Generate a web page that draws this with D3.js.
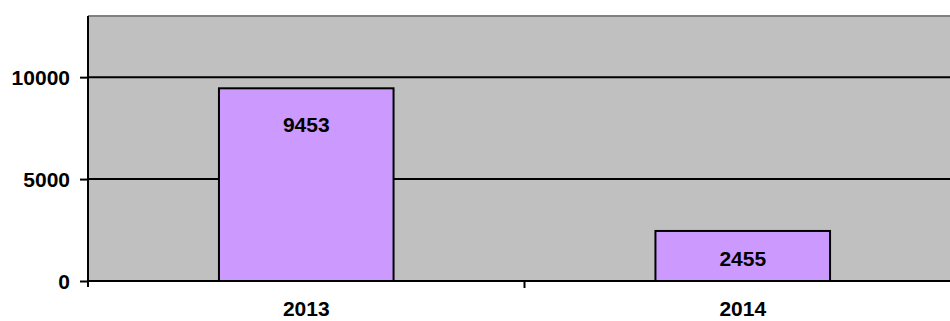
<!DOCTYPE html>
<html>
<head>
<meta charset="utf-8">
<script src="https://cdn.jsdelivr.net/npm/d3@7"></script>
<style>
  body { margin: 0; background: #fff; }
  svg text { font-family: "Liberation Sans", Arial, sans-serif; font-weight: bold; }
</style>
</head>
<body>
<svg id="chart" width="950" height="321"></svg>
<script>
const years = ["2013", "2014"]
const values = [9453, 2455]
const yTicks = [0, 5000, 10000]

const svg = d3.select("#chart")
const plotLeft = 88, plotRight = 961, plotTop = 16, plotBottom = 281

const x = d3.scaleBand()
    .domain(years)
    .range([plotLeft, plotRight])
    .paddingInner(0.6)
    .paddingOuter(0.3)
const y = d3.scaleLinear()
    .domain([0, 13000])
    .range([plotBottom, plotTop])

// plot background
svg.append("rect")
    .attr("x", plotLeft)
    .attr("y", plotTop)
    .attr("width", plotRight - plotLeft)
    .attr("height", plotBottom - plotTop)
    .attr("fill", "#c0c0c0")
svg.append("line")
    .attr("x1", plotLeft).attr("x2", plotRight)
    .attr("y1", plotTop).attr("y2", plotTop)
    .attr("stroke", "#808080")
    .attr("stroke-width", 2)

// gridlines
svg.selectAll("line.grid")
    .data(yTicks.slice(1))
    .enter().append("line")
    .attr("class", "grid")
    .attr("x1", plotLeft).attr("x2", plotRight)
    .attr("y1", d => y(d)).attr("y2", d => y(d))
    .attr("stroke", "black")
    .attr("stroke-width", 2)

// bars
svg.selectAll("rect.bar")
    .data(values)
    .enter().append("rect")
    .attr("class", "bar")
    .attr("x", (d, i) => x(years[i]))
    .attr("y", d => y(d))
    .attr("width", x.bandwidth())
    .attr("height", d => y(0) - y(d))
    .attr("fill", "#cc99ff")
    .attr("stroke", "black")
    .attr("stroke-width", 2)

svg.selectAll("text.val")
    .data(values)
    .enter().append("text")
    .attr("class", "val")
    .attr("x", (d, i) => x(years[i]) + x.bandwidth() / 2)
    .attr("y", d => Math.min(y(d) + 44, (y(d) + y(0)) / 2 + 10))
    .attr("text-anchor", "middle")
    .style("font-size", "21px")
    .text(d => d)

// y axis
const yAxis = d3.axisLeft(y)
    .tickValues(yTicks)
    .tickFormat(d3.format("d"))
    .tickSize(8)
    .tickPadding(10)
    .tickSizeOuter(0)
const gy = svg.append("g")
    .attr("transform", `translate(${plotLeft},0)`)
    .call(yAxis)
gy.select(".domain")
    .attr("stroke", "black")
    .attr("stroke-width", 2)
    .attr("d", `M0,${plotTop}V${plotBottom + 6}`)
gy.selectAll(".tick line").attr("stroke", "black").attr("stroke-width", 2)
gy.selectAll(".tick text")
    .attr("fill", "black")
    .style("font-size", "21px")
    .attr("dy", "0.35em")

// x axis
svg.append("line")
    .attr("x1", plotLeft - 1).attr("x2", plotRight)
    .attr("y1", plotBottom).attr("y2", plotBottom)
    .attr("stroke", "black")
    .attr("stroke-width", 2)
svg.selectAll("line.xtick")
    .data(years.slice(1))
    .enter().append("line")
    .attr("class", "xtick")
    .attr("x1", d => x(d) - x.step() * x.paddingInner() / 2)
    .attr("x2", d => x(d) - x.step() * x.paddingInner() / 2)
    .attr("y1", plotBottom).attr("y2", plotBottom + 7)
    .attr("stroke", "black")
    .attr("stroke-width", 2)
svg.selectAll("text.cat")
    .data(years)
    .enter().append("text")
    .attr("class", "cat")
    .attr("x", d => x(d) + x.bandwidth() / 2)
    .attr("y", 316)
    .attr("text-anchor", "middle")
    .style("font-size", "21px")
    .text(d => d)
</script>
</body>
</html>
